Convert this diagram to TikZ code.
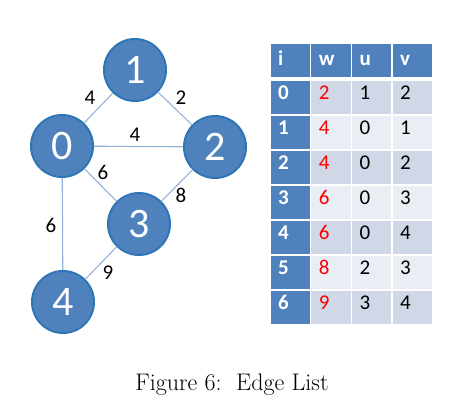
\documentclass[tikz,border=0pt]{standalone}
\usepackage{fontspec}
\newfontfamily\calibri{Carlito}
\definecolor{vertexblue}{HTML}{4F81BD}
\definecolor{vertexrim}{HTML}{2E75B6}
\definecolor{edgeblue}{HTML}{95B3D7}
\definecolor{rowdark}{HTML}{D0D8E8}
\definecolor{rowlight}{HTML}{E9EDF4}
\definecolor{weightred}{HTML}{FF0000}
\tikzset{
  vertex/.style={circle,fill=vertexblue,draw=vertexrim,line width=2pt,
    minimum size=62pt,inner sep=0pt,text=white,font=\calibri\fontsize{42}{42}\selectfont},
  edge/.style={draw=edgeblue,line width=1.1pt},
  weight/.style={font=\calibri\fontsize{21}{21}\selectfont,inner sep=0pt},
  cell/.style={minimum width=39.2pt,minimum height=33.5pt,inner sep=0pt},
  headcell/.style={cell,fill=vertexblue,minimum height=33pt},
  celltext/.style={anchor=base west,inner sep=0pt,font=\calibri\fontsize{21}{21}\selectfont},
  boldtext/.style={celltext,text=white,font=\calibri\bfseries\fontsize{21}{21}\selectfont}
}
\begin{document}
\begin{tikzpicture}[x=1pt,y=-1pt]
  \useasboundingbox (0,0) rectangle (461,407);
  % graph
  \node[vertex] (v0) at (62,146) {0};
  \node[vertex] (v1) at (135,70) {1};
  \node[vertex] (v2) at (215,147) {2};
  \node[vertex] (v3) at (139,224) {3};
  \node[vertex] (v4) at (63,302) {4};
  \path[edge] (v0) -- (v1) (v1) -- (v2) (v0) -- (v2)
    (v0) -- (v3) (v2) -- (v3) (v0) -- (v4) (v3) -- (v4);
  \node[weight] (w01) at (90,98) {4};
  \node[weight] (w12) at (181,98) {2};
  \node[weight] (w02) at (135,135) {4};
  \node[weight] (w03) at (103,172) {6};
  \node[weight] (w23) at (181,195) {8};
  \node[weight] (w04) at (51,225) {6};
  \node[weight] (w34) at (108,273) {9};
  % edge list
  \foreach \name [count=\c from 0] in {i,w,u,v} {
    \node[headcell] (h\c) at (290.3+40.67*\c,60.5) {};
    \node[boldtext] (ht\c) at (278+40.67*\c,65) {\name};
  }
  \foreach \w/\u/\v [count=\r from 0] in {2/1/2,4/0/1,4/0/2,6/0/3,6/0/4,8/2/3,9/3/4} {
    \pgfmathtruncatemacro\odd{mod(\r,2)}
    \ifnum\odd=0 \def\shade{rowdark}\else \def\shade{rowlight}\fi
    \node[cell,fill=vertexblue] (c\r0) at (290.3,97.5+35*\r) {};
    \node[cell,fill=\shade] (c\r1) at (331,97.5+35*\r) {};
    \node[cell,fill=\shade] (c\r2) at (371.7,97.5+35*\r) {};
    \node[cell,fill=\shade] (c\r3) at (412.3,97.5+35*\r) {};
    \node[boldtext] (t\r0) at (278,99+35*\r) {\r};
    \node[celltext,text=weightred] (t\r1) at (318.7,99+35*\r) {\w};
    \node[celltext] (t\r2) at (359.3,99+35*\r) {\u};
    \node[celltext] (t\r3) at (400,99+35*\r) {\v};
  }
  % caption
  \node[font=\fontsize{24}{28}\selectfont] (caption) at (232,385) {Figure 6:\ \ Edge List};
\end{tikzpicture}
\end{document}
